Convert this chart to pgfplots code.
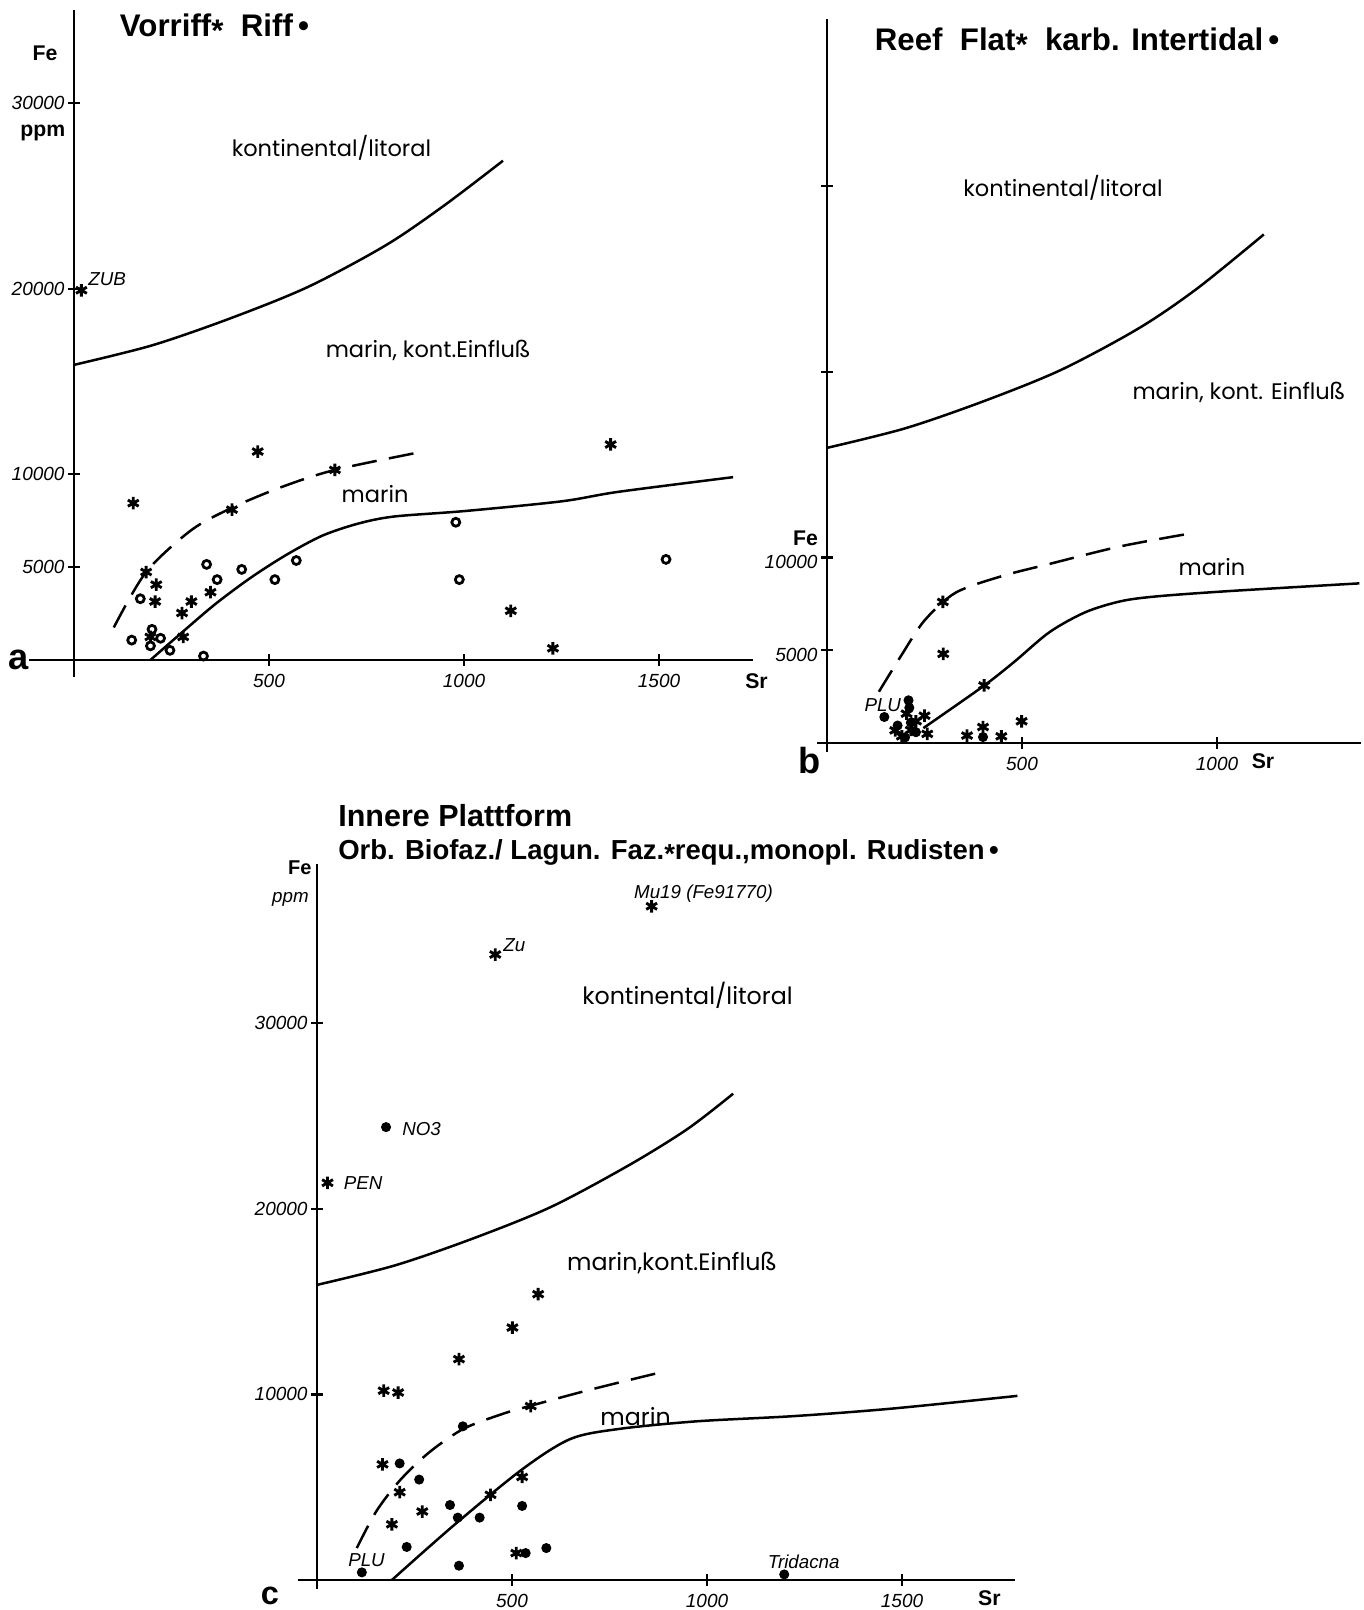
\documentclass[border=0pt]{standalone}
\usepackage{fontspec}
\setmainfont{Liberation Sans}
\newfontfamily\geo{Poppins}
\usepackage{pgfplots}
\pgfplotsset{compat=1.18}
\newcommand{\tickfont}{\fontsize{7.6}{8}\selectfont\itshape}
\newcommand{\lab}{\fontsize{7.5}{8}\selectfont\itshape}
\newcommand{\reg}{\fontsize{9}{10}\selectfont\geo}
\newcommand{\regc}{\fontsize{9.5}{10}\selectfont\geo}
\newcommand{\axl}{\fontsize{8.5}{9}\selectfont\bfseries}
\newcommand{\ttl}{\fontsize{12.5}{14}\selectfont\bfseries}
\newcommand{\stt}{\raisebox{-0.3ex}{*}}
\pgfplotsset{
  panel/.style={
    scale only axis, axis lines=middle, enlargelimits=false,
    axis line style={-, line width=1.1pt},
    every inner x axis line/.append style={-},
    every inner y axis line/.append style={-},
    tick align=center, major tick length=4.5pt,
    every tick/.style={line width=0.9pt, black},
    clip=false, ticklabel style={font=\tickfont},
    yticklabel style={xshift=2pt},
    scaled ticks=false,
  },
  star/.style={only marks, mark=asterisk, mark size=2.5pt, mark options={line width=1.15pt}},
  ring/.style={only marks, mark=o, mark size=1.6pt, mark options={line width=1.1pt}},
  dot/.style={only marks, mark=*, mark size=1.8pt},
  bound/.style={smooth, line width=1pt, no marks},
  dbound/.style={smooth, line width=1pt, no marks, dash pattern=on 10pt off 5pt},
}
\begin{document}
\begin{tikzpicture}
\useasboundingbox (0,0) rectangle (545.2pt,644pt);
% ---------------- panel a
\begin{axis}[panel, at={(11.66pt,373.32pt)}, anchor=south west,
  width=289.38pt, height=266.52pt,
  xmin=-115, xmax=1740, ymin=-900, ymax=35000,
  xtick={500,1000,1500}, xticklabels={500,1000,1500},
  ytick={5000,10000,20000,30000}, yticklabels={5000,10000,20000,30000}]
\addplot[bound] coordinates {(0,15900) (200,16950) (400,18400) (600,20100) (800,22350) (950,24500) (1100,26900)};
\addplot[bound] coordinates {(196,0) (269,1340) (361,2990) (453,4430) (545,5670) (637,6700) (729,7350) (821,7730) (1005,8030) (1251,8550) (1396,9060) (1690,9850)};
\addplot[dbound] coordinates {(102,1750) (185,4740) (301,7000) (405,8200) (530,9300) (669,10240) (900,11250)};
\addplot[star] coordinates {(19,19920) (152,8450) (471,11230) (669,10240) (405,8100) (185,4740) (211,4060) (208,3150) (301,3150) (277,2530) (350,3650) (280,1240) (196,1240) (1376,11610) (1120,2650) (1228,630)};
\addplot[ring] coordinates {(148,1070) (170,3300) (200,1650) (196,760) (222,1170) (246,520) (332,210) (340,5150) (367,4330) (430,4880) (515,4330) (570,5360) (979,7420) (988,4330) (1518,5420)};
\node[anchor=west,font=\ttl] at (axis cs:95,34050) {Vorriff\stt\ \ Riff\,•};
\node[font=\axl] at (axis cs:-74,32700) {Fe};
\node[font=\axl] at (axis cs:-80,28400) {ppm};
\node[font=\reg] at (axis cs:660,27600) {kontinental/litoral};
\node[font=\reg] at (axis cs:908,16700) {marin, kont.Einfluß};
\node[font=\reg] at (axis cs:772,8940) {marin};
\node[font=\lab] at (axis cs:85,20500) {ZUB};
\node[font=\fontsize{14.5}{15}\selectfont\bfseries] at (axis cs:-142,0) {a};
\node[font=\axl] at (axis cs:1750,-1150) {Sr};
\end{axis}
% ---------------- panel b
\begin{axis}[panel, at={(326.9pt,343.09pt)}, anchor=south west,
  width=217.62pt, height=293.25pt,
  xmin=-25, xmax=1370, ymin=-500, ymax=39000,
  xtick={500,1000}, xticklabels={500,1000},
  ytick={5000,10000,20000,30000}, yticklabels={5000,10000,,},
  yticklabel style={yshift=-2pt}]
\addplot[bound] coordinates {(0,15900) (200,16950) (400,18400) (600,20100) (800,22350) (950,24500) (1120,27400)};
\addplot[bound] coordinates {(247,800) (402,3080) (480,4370) (571,5980) (663,7050) (754,7640) (846,7900) (1028,8180) (1365,8600)};
\addplot[dbound] coordinates {(133,2760) (190,4700) (250,6600) (330,8100) (450,9000) (571,9650) (754,10600) (946,11340)};
\addplot[star] coordinates {(297,7600) (298,4800) (403,3100) (499,1170) (359,400) (400,860) (447,360) (257,490) (250,1470) (228,1170) (204,1580) (175,680) (192,360) (215,700)};
\addplot[dot] coordinates {(147,1400) (209,2300) (211,1900) (181,940) (228,580) (200,300) (215,1100) (400,320)};
\node[anchor=west,font=\ttl] at (axis cs:100,37800) {Reef\ \ Flat\stt\ \ karb. Intertidal\,•};
\node[font=\reg] at (axis cs:605,29900) {kontinental/litoral};
\node[font=\reg] at (axis cs:1056,18860) {marin, kont. Einfluß};
\node[font=\reg] at (axis cs:987,9480) {marin};
\node[font=\axl] at (axis cs:-55,11050) {Fe};
\node[font=\lab] at (axis cs:143,2050) {PLU};
\node[font=\fontsize{14.5}{15}\selectfont\bfseries] at (axis cs:-45,-950) {b};
\node[font=\axl] at (axis cs:1118,-1000) {Sr};
\end{axis}
% ---------------- panel c
\begin{axis}[panel, at={(119pt,8.29pt)}, anchor=south west,
  width=287.04pt, height=290.28pt,
  xmin=-50, xmax=1790, ymin=-500, ymax=38600,
  xtick={500,1000,1500}, xticklabels={500,1000,1500},
  ytick={10000,20000,30000}, yticklabels={10000,20000,30000}]
\addplot[bound] coordinates {(0,15900) (200,16950) (400,18400) (600,20100) (800,22350) (950,24300) (1067,26200)};
\addplot[bound] coordinates {(192,0) (351,2950) (526,5960) (650,7600) (775,8140) (974,8550) (1223,8830) (1472,9230) (1796,9920)};
\addplot[dbound] coordinates {(102,1720) (152,3700) (214,5400) (289,6900) (376,8150) (476,8950) (550,9400) (700,10250) (874,11150)};
\addplot[star] coordinates {(858,36300) (457,33700) (27,21400) (567,15400) (501,13600) (364,11900) (171,10200) (208,10100) (548,9370) (168,6230) (526,5550) (212,4730) (445,4590) (270,3690) (192,3000) (511,1450)};
\addplot[dot] coordinates {(177,24400) (374,8280) (212,6280) (262,5410) (341,4040) (526,3990) (361,3360) (417,3360) (230,1780) (535,1450) (588,1720) (364,770) (115,410) (1198,300)};
\node[anchor=west,font=\fontsize{12.2}{13}\selectfont\bfseries] at (axis cs:32,41200) {Innere Plattform};
\node[anchor=west,font=\fontsize{11}{13}\selectfont\bfseries] at (axis cs:32,39200) {Orb. Biofaz./ Lagun. Faz.\stt requ.,monopl. Rudisten\,•};
\node[font=\fontsize{8}{9}\selectfont\bfseries, inner sep=1pt] at (axis cs:-44,38350) {Fe};
\node[font=\lab, inner sep=1pt] at (axis cs:-68,36650) {ppm};
\node[font=\lab] at (axis cs:991,37000) {Mu19 (Fe91770)};
\node[font=\lab] at (axis cs:506,34200) {Zu};
\node[font=\lab,anchor=west] at (axis cs:196,24300) {NO3};
\node[font=\lab,anchor=west] at (axis cs:46,21400) {PEN};
\node[font=\regc] at (axis cs:950,31500) {kontinental/litoral};
\node[font=\regc] at (axis cs:910,17100) {marin,kont.Einfluß};
\node[font=\regc] at (axis cs:817,8780) {marin};
\node[font=\lab] at (axis cs:127,1050) {PLU};
\node[font=\lab] at (axis cs:1248,970) {Tridacna};
\node[font=\fontsize{13}{13}\selectfont\bfseries] at (axis cs:-121,-850) {c};
\node[font=\axl] at (axis cs:1724,-970) {Sr};
\end{axis}
\end{tikzpicture}
\end{document}
